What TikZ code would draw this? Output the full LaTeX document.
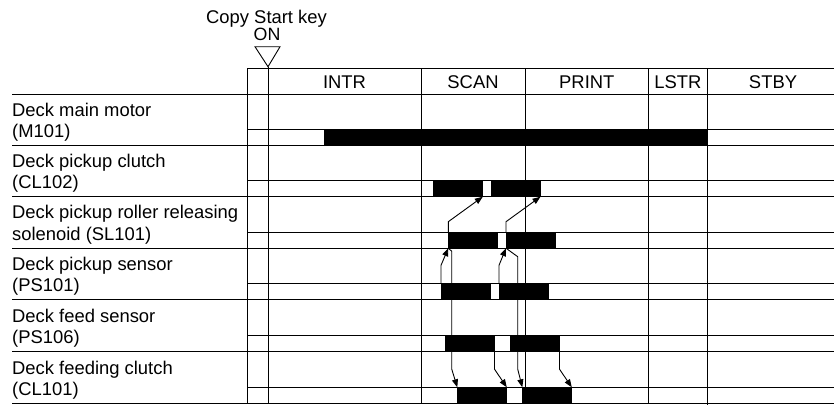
\documentclass[tikz,border=0pt]{standalone}
\usepackage{fontspec}
\setmainfont{Liberation Sans}
\usetikzlibrary{arrows.meta}
\begin{document}
\begin{tikzpicture}[x=1pt,y=-1pt,
  grid/.style={line width=0.9pt},
  bar/.style={fill=black,draw=none,inner sep=0pt,outer sep=0pt,minimum width=49.5pt,minimum height=16pt,anchor=north west},
  lab/.style={font=\fontsize{18.4}{21}\selectfont,anchor=base west,inner sep=0pt},
  hdr/.style={font=\fontsize{18.4}{21}\selectfont,anchor=base,inner sep=0pt},
  sig/.style={line width=0.9pt,-{Triangle[length=8pt,width=6pt]}}]
\useasboundingbox (0,0) rectangle (834,405);
% top caption and trigger mark
\node[lab] (copy) at (206,23.5) {Copy Start key};
\node[hdr,font=\fontsize{17.8}{21}\selectfont] (on) at (267,40.8) {ON};
\draw[grid] (255,46.7) -- (280,46.7) -- (268,66.7) -- cycle;
% grid
\draw[grid] (247,68) -- (834,68);
\draw[grid] (12,94.5) -- (834,94.5);
\foreach \b in {145.3,196.7,248.2,299.3,351.2,403.3}{
  \draw[grid] (12,\b) -- (834,\b);
  \draw[grid] (247,\b-16) -- (834,\b-16);
}
\draw[grid] (247,68) -- (247,403.3);
\draw[grid] (268,66.7) -- (268,403.3);
\draw[grid] (421,68) -- (421,403.3);
\draw[grid] (525.7,68) -- (525.7,403.3);
\draw[grid] (648.3,68) -- (648.3,403.3);
\draw[grid] (707.7,68) -- (707.7,405);
% header labels
\node[hdr] (intr) at (344.5,88.3) {INTR};
\node[hdr] (scan) at (473,88.3) {SCAN};
\node[hdr] (print) at (586.8,88.3) {PRINT};
\node[hdr] (lstr) at (677.8,88.3) {LSTR};
\node[hdr] (stby) at (773,88.3) {STBY};
% row labels
\node[lab] (l1a) at (12,116.5) {Deck main motor};
\node[lab] (l1b) at (12,137.5) {(M101)};
\node[lab] (l2a) at (12,167.3) {Deck pickup clutch};
\node[lab] (l2b) at (12,188.5) {(CL102)};
\node[lab] (l3a) at (12,218.9) {Deck pickup roller releasing};
\node[lab] (l3b) at (12,240) {solenoid (SL101)};
\node[lab] (l4a) at (12,270.5) {Deck pickup sensor};
\node[lab] (l4b) at (12,291.5) {(PS101)};
\node[lab] (l5a) at (12,322) {Deck feed sensor};
\node[lab] (l5b) at (12,343) {(PS106)};
\node[lab] (l6a) at (12,374) {Deck feeding clutch};
\node[lab] (l6b) at (12,395) {(CL101)};
% bars
\node[bar,minimum width=383.7pt] (m101) at (324,129.3) {};
\node[bar] (cl2a) at (433.3,180.7) {};
\node[bar] (cl2b) at (491,180.7) {};
\node[bar] (sl1) at (448.3,232.2) {};
\node[bar] (sl2) at (506,232.2) {};
\node[bar] (ps1a) at (441,283.3) {};
\node[bar] (ps1b) at (499,283.3) {};
\node[bar] (ps6a) at (445,335.2) {};
\node[bar] (ps6b) at (510,335.2) {};
\node[bar] (cl1a) at (457.3,387.3) {};
\node[bar] (cl1b) at (522.3,387.3) {};
% signal arrows
\draw[sig] (sl1.north west) -- ++(0,-10.5) -- (cl2a.south east);
\draw[sig] (sl2.north west) -- ++(0,-10.5) -- (cl2b.south east);
\draw[sig] (ps1a.north west) -- ++(0,-18) -- (sl1.south west);
\draw[sig] (ps1b.north west) -- ++(0,-18) -- (sl2.south west);
\draw[sig] (sl1.south west) -- ++(3.4,3) -- ++(0,117.8) -- (cl1a.north west);
\draw[sig] (sl2.south west) -- ++(11.7,8.5) -- ++(0,112.3) -- (cl1b.north west);
\draw[sig] (ps6a.south east) -- ++(0,18) -- (cl1a.north east);
\draw[sig] (ps6b.south east) -- ++(0,18) -- (cl1b.north east);
\end{tikzpicture}
\end{document}
